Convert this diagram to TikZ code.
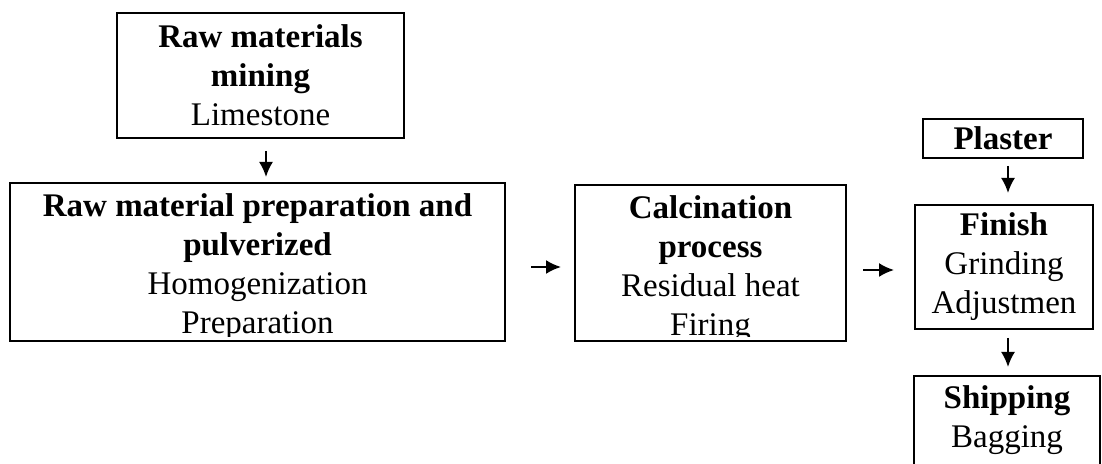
\documentclass[tikz,border=0pt]{standalone}
\usepackage{fontspec}
\setmainfont{Liberation Serif}
\usetikzlibrary{arrows.meta}

\tikzset{
  txt/.style={inner sep=0pt, align=center, font=\fontsize{16.5}{19.5}\selectfont},
  box/.style={txt, draw, line width=1pt},
  flow/.style={-{Latex[length=7.5pt,width=7pt]}, line width=1pt},
}

\begin{document}
\begin{tikzpicture}[x=0.5pt,y=-0.5pt]
    \clip (0,0) rectangle (1102,464);

    % Boxes
    \node[box, minimum width=143.5pt, minimum height=62.5pt] (mine) at (260.5,75.5)
        {\textbf{Raw materials}\\\textbf{mining}\\Limestone};
    \node[box, minimum width=247.5pt, minimum height=79pt] (prep) at (257.5,262) {};
    \node[box, minimum width=135.5pt, minimum height=78pt] (calc) at (710.5,263) {};
    \node[box, minimum width=80pt, minimum height=19.5pt] (plaster) at (1003,138.5) {\textbf{Plaster}};
    \node[box, minimum width=89pt, minimum height=62pt] (finish) at (1004,267)
        {\textbf{Finish}\\Grinding\\Adjustmen};
    \node[box, minimum width=93pt, minimum height=50.5pt, text depth=9.6pt, anchor=north] (ship) at (1007,375)
        {\textbf{Shipping}\\Bagging};

    % Box texts cut at the bottom
    \begin{scope}
        \clip ([shift={(3,3)}]prep.north west) rectangle ([shift={(-3,-5)}]prep.south east);
        \node[txt, anchor=north] (prep-text) at ([yshift=-5.75pt]prep.north)
            {\textbf{Raw material preparation and}\\\textbf{pulverized}\\Homogenization\\Preparation};
    \end{scope}
    \begin{scope}
        \clip ([shift={(3,3)}]calc.north west) rectangle ([shift={(-3,-5)}]calc.south east);
        \node[txt, anchor=north] (calc-text) at ([yshift=-5.75pt]calc.north)
            {\textbf{Calcination}\\\textbf{process}\\Residual heat\\Firing};
    \end{scope}

    % Arrows
    \draw[flow, shorten <=6pt, shorten >=2.5pt] ([xshift=2.75pt]mine.south) -- ([xshift=2.75pt]mine.south |- prep.north);
    \draw[flow, shorten <=12.5pt, shorten >=6.5pt] ([yshift=-2.5pt]prep.east) -- ([yshift=-2.5pt]prep.east -| calc.west);
    \draw[flow, shorten <=8pt, shorten >=10pt] ([yshift=-3.5pt]calc.east) -- ([yshift=-3.5pt]calc.east -| finish.west);
    \draw[flow, shorten <=3.5pt, shorten >=5.5pt] ([xshift=2.5pt]plaster.south) -- ([xshift=2.5pt]plaster.south |- finish.north);
    \draw[flow, shorten <=4pt, shorten >=4pt] ([xshift=2pt]finish.south) -- ([xshift=2pt]finish.south |- ship.north);
\end{tikzpicture}
\end{document}
